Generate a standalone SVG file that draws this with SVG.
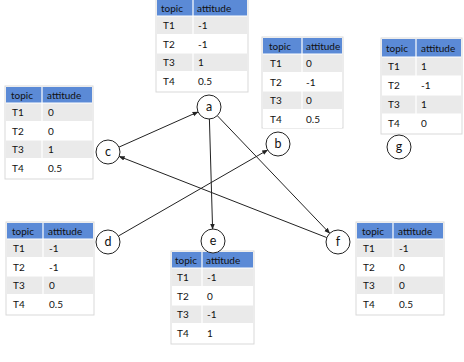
<svg xmlns="http://www.w3.org/2000/svg" width="464" height="362" viewBox="0 0 464 362">
<defs>
<style>
.hd{fill:#5B8AD6}
.g{fill:#EAEAEA}
.w{fill:#FFFFFF}
.fr{fill:#fff;stroke:#D9D9D9;stroke-width:1}
.sep{stroke:#fff;stroke-width:1.2}
text{font-family:Lato,"Liberation Sans",sans-serif;font-size:10px;fill:#111}
.nd{fill:#fff;stroke:#222;stroke-width:1}
.nl{font-size:12.5px;text-anchor:middle;fill:#111}
.e{stroke:#222;stroke-width:1;fill:none;marker-end:url(#ar)}
</style>
<marker id="ar" viewBox="0 0 10 10" refX="9" refY="5" markerWidth="6" markerHeight="6" orient="auto" markerUnits="userSpaceOnUse">
<path d="M0,1 L10,5 L0,9 z" fill="#222"/>
</marker>
</defs>
<rect width="464" height="362" fill="#fff"/>

<g id="table-a" transform="translate(157,0)">
<rect class="fr" x="-1" y="-1" width="92" height="93"/>
<rect class="hd" x="0" y="0" width="90" height="16"/>
<rect class="g" x="0" y="16" width="90" height="18.5"/>
<rect class="w" x="0" y="34.5" width="90" height="18.5"/>
<rect class="g" x="0" y="53" width="90" height="18.5"/>
<rect class="w" x="0" y="71.5" width="90" height="18.5"/>
<line class="sep" x1="36" y1="0" x2="36" y2="90"/>
<line class="sep" x1="0" y1="16" x2="90" y2="16"/>
<line class="sep" x1="0" y1="34.5" x2="90" y2="34.5"/>
<line class="sep" x1="0" y1="53" x2="90" y2="53"/>
<line class="sep" x1="0" y1="71.5" x2="90" y2="71.5"/>
<text x="4" y="11.5">topic</text><text x="40" y="11.5">attitude</text>
<text x="6" y="29">T1</text><text x="41" y="29">-1</text>
<text x="6" y="47.5">T2</text><text x="41" y="47.5">-1</text>
<text x="6" y="66">T3</text><text x="41" y="66">1</text>
<text x="6" y="84.5">T4</text><text x="41" y="84.5">0.5</text>
</g>

<g id="table-b" transform="translate(263,38)">
<rect class="fr" x="-1" y="-1" width="81" height="91"/>
<rect class="hd" x="0" y="0" width="79" height="16"/>
<rect class="g" x="0" y="16" width="79" height="18.5"/>
<rect class="w" x="0" y="34.5" width="79" height="18.5"/>
<rect class="g" x="0" y="53" width="79" height="18.5"/>
<rect class="w" x="0" y="71.5" width="79" height="18.5"/>
<line class="sep" x1="39" y1="0" x2="39" y2="89"/>
<line class="sep" x1="0" y1="16" x2="79" y2="16"/>
<line class="sep" x1="0" y1="34.5" x2="79" y2="34.5"/>
<line class="sep" x1="0" y1="53" x2="79" y2="53"/>
<line class="sep" x1="0" y1="71.5" x2="79" y2="71.5"/>
<text x="6" y="11.5">topic</text><text x="43" y="11.5">attitude</text>
<text x="7" y="29">T1</text><text x="43" y="29">0</text>
<text x="7" y="47.5">T2</text><text x="43" y="47.5">-1</text>
<text x="7" y="66">T3</text><text x="43" y="66">0</text>
<text x="7" y="84.5">T4</text><text x="43" y="84.5">0.5</text>
</g>

<g id="table-g" transform="translate(382,39)">
<rect class="fr" x="-1" y="-1" width="81" height="96"/>
<rect class="hd" x="0" y="0" width="79" height="18"/>
<rect class="g" x="0" y="18" width="79" height="19"/>
<rect class="w" x="0" y="37" width="79" height="19"/>
<rect class="g" x="0" y="56" width="79" height="19"/>
<rect class="w" x="0" y="75" width="79" height="19"/>
<line class="sep" x1="34" y1="0" x2="34" y2="94"/>
<line class="sep" x1="0" y1="18" x2="79" y2="18"/>
<line class="sep" x1="0" y1="37" x2="79" y2="37"/>
<line class="sep" x1="0" y1="56" x2="79" y2="56"/>
<line class="sep" x1="0" y1="75" x2="79" y2="75"/>
<text x="4" y="12.5">topic</text><text x="39" y="12.5">attitude</text>
<text x="6" y="31">T1</text><text x="39" y="31">1</text>
<text x="6" y="50">T2</text><text x="39" y="50">-1</text>
<text x="6" y="69">T3</text><text x="39" y="69">1</text>
<text x="6" y="88">T4</text><text x="39" y="88">0</text>
</g>

<g id="table-c" transform="translate(6,87)">
<rect class="fr" x="-1" y="-1" width="88" height="93"/>
<rect class="hd" x="0" y="0" width="86" height="16"/>
<rect class="g" x="0" y="16" width="86" height="18.5"/>
<rect class="w" x="0" y="34.5" width="86" height="18.5"/>
<rect class="g" x="0" y="53" width="86" height="18.5"/>
<rect class="w" x="0" y="71.5" width="86" height="18.5"/>
<line class="sep" x1="36" y1="0" x2="36" y2="90"/>
<line class="sep" x1="0" y1="16" x2="86" y2="16"/>
<line class="sep" x1="0" y1="34.5" x2="86" y2="34.5"/>
<line class="sep" x1="0" y1="53" x2="86" y2="53"/>
<line class="sep" x1="0" y1="71.5" x2="86" y2="71.5"/>
<text x="5" y="11.5">topic</text><text x="41" y="11.5">attitude</text>
<text x="6" y="29">T1</text><text x="42" y="29">0</text>
<text x="6" y="47.5">T2</text><text x="42" y="47.5">0</text>
<text x="6" y="66">T3</text><text x="42" y="66">1</text>
<text x="6" y="84.5">T4</text><text x="42" y="84.5">0.5</text>
</g>

<g id="table-d" transform="translate(7,223)">
<rect class="fr" x="-1" y="-1" width="88" height="93"/>
<rect class="hd" x="0" y="0" width="86" height="16"/>
<rect class="g" x="0" y="16" width="86" height="18.5"/>
<rect class="w" x="0" y="34.5" width="86" height="18.5"/>
<rect class="g" x="0" y="53" width="86" height="18.5"/>
<rect class="w" x="0" y="71.5" width="86" height="18.5"/>
<line class="sep" x1="36" y1="0" x2="36" y2="90"/>
<line class="sep" x1="0" y1="16" x2="86" y2="16"/>
<line class="sep" x1="0" y1="34.5" x2="86" y2="34.5"/>
<line class="sep" x1="0" y1="53" x2="86" y2="53"/>
<line class="sep" x1="0" y1="71.5" x2="86" y2="71.5"/>
<text x="5" y="11.5">topic</text><text x="41" y="11.5">attitude</text>
<text x="6" y="29">T1</text><text x="42" y="29">-1</text>
<text x="6" y="47.5">T2</text><text x="42" y="47.5">-1</text>
<text x="6" y="66">T3</text><text x="42" y="66">0</text>
<text x="6" y="84.5">T4</text><text x="42" y="84.5">0.5</text>
</g>

<g id="table-e" transform="translate(172,252)">
<rect class="fr" x="-1" y="-1" width="83" height="93"/>
<rect class="hd" x="0" y="0" width="81" height="16"/>
<rect class="g" x="0" y="16" width="81" height="18.5"/>
<rect class="w" x="0" y="34.5" width="81" height="18.5"/>
<rect class="g" x="0" y="53" width="81" height="18.5"/>
<rect class="w" x="0" y="71.5" width="81" height="18.5"/>
<line class="sep" x1="30" y1="0" x2="30" y2="90"/>
<line class="sep" x1="0" y1="16" x2="81" y2="16"/>
<line class="sep" x1="0" y1="34.5" x2="81" y2="34.5"/>
<line class="sep" x1="0" y1="53" x2="81" y2="53"/>
<line class="sep" x1="0" y1="71.5" x2="81" y2="71.5"/>
<text x="3" y="11.5">topic</text><text x="34" y="11.5">attitude</text>
<text x="5" y="29">T1</text><text x="35" y="29">-1</text>
<text x="5" y="47.5">T2</text><text x="35" y="47.5">0</text>
<text x="5" y="66">T3</text><text x="35" y="66">-1</text>
<text x="5" y="84.5">T4</text><text x="35" y="84.5">1</text>
</g>

<g id="table-f" transform="translate(357,223)">
<rect class="fr" x="-1" y="-1" width="88" height="93"/>
<rect class="hd" x="0" y="0" width="86" height="16"/>
<rect class="g" x="0" y="16" width="86" height="18.5"/>
<rect class="w" x="0" y="34.5" width="86" height="18.5"/>
<rect class="g" x="0" y="53" width="86" height="18.5"/>
<rect class="w" x="0" y="71.5" width="86" height="18.5"/>
<line class="sep" x1="36" y1="0" x2="36" y2="90"/>
<line class="sep" x1="0" y1="16" x2="86" y2="16"/>
<line class="sep" x1="0" y1="34.5" x2="86" y2="34.5"/>
<line class="sep" x1="0" y1="53" x2="86" y2="53"/>
<line class="sep" x1="0" y1="71.5" x2="86" y2="71.5"/>
<text x="5" y="11.5">topic</text><text x="41" y="11.5">attitude</text>
<text x="6" y="29">T1</text><text x="42" y="29">-1</text>
<text x="6" y="47.5">T2</text><text x="42" y="47.5">0</text>
<text x="6" y="66">T3</text><text x="42" y="66">0</text>
<text x="6" y="84.5">T4</text><text x="42" y="84.5">0.5</text>
</g>

<g id="connectors">
<line class="e" x1="119" y1="147.1" x2="198" y2="111.9"/>
<line class="e" x1="209.4" y1="119" x2="212.6" y2="229"/>
<line class="e" x1="217.3" y1="115.7" x2="329.7" y2="233.3"/>
<line class="e" x1="118.4" y1="236" x2="267.6" y2="150"/>
<line class="e" x1="326.8" y1="237.6" x2="119.2" y2="156.4"/>
</g>

<g id="node-a"><circle class="nd" cx="209" cy="107" r="12"/><text class="nl" x="209" y="111">a</text></g>
<g id="node-b"><circle class="nd" cx="278" cy="144" r="12"/><text class="nl" x="278" y="148">b</text></g>
<g id="node-c"><circle class="nd" cx="108" cy="152" r="12"/><text class="nl" x="108" y="156">c</text></g>
<g id="node-d"><circle class="nd" cx="108" cy="242" r="12"/><text class="nl" x="108" y="246">d</text></g>
<g id="node-e"><circle class="nd" cx="213" cy="241" r="12"/><text class="nl" x="213" y="245">e</text></g>
<g id="node-f"><circle class="nd" cx="338" cy="242" r="12"/><text class="nl" x="338" y="246">f</text></g>
<g id="node-g"><circle class="nd" cx="399" cy="147" r="12"/><text class="nl" x="399" y="151">g</text></g>
</svg>
